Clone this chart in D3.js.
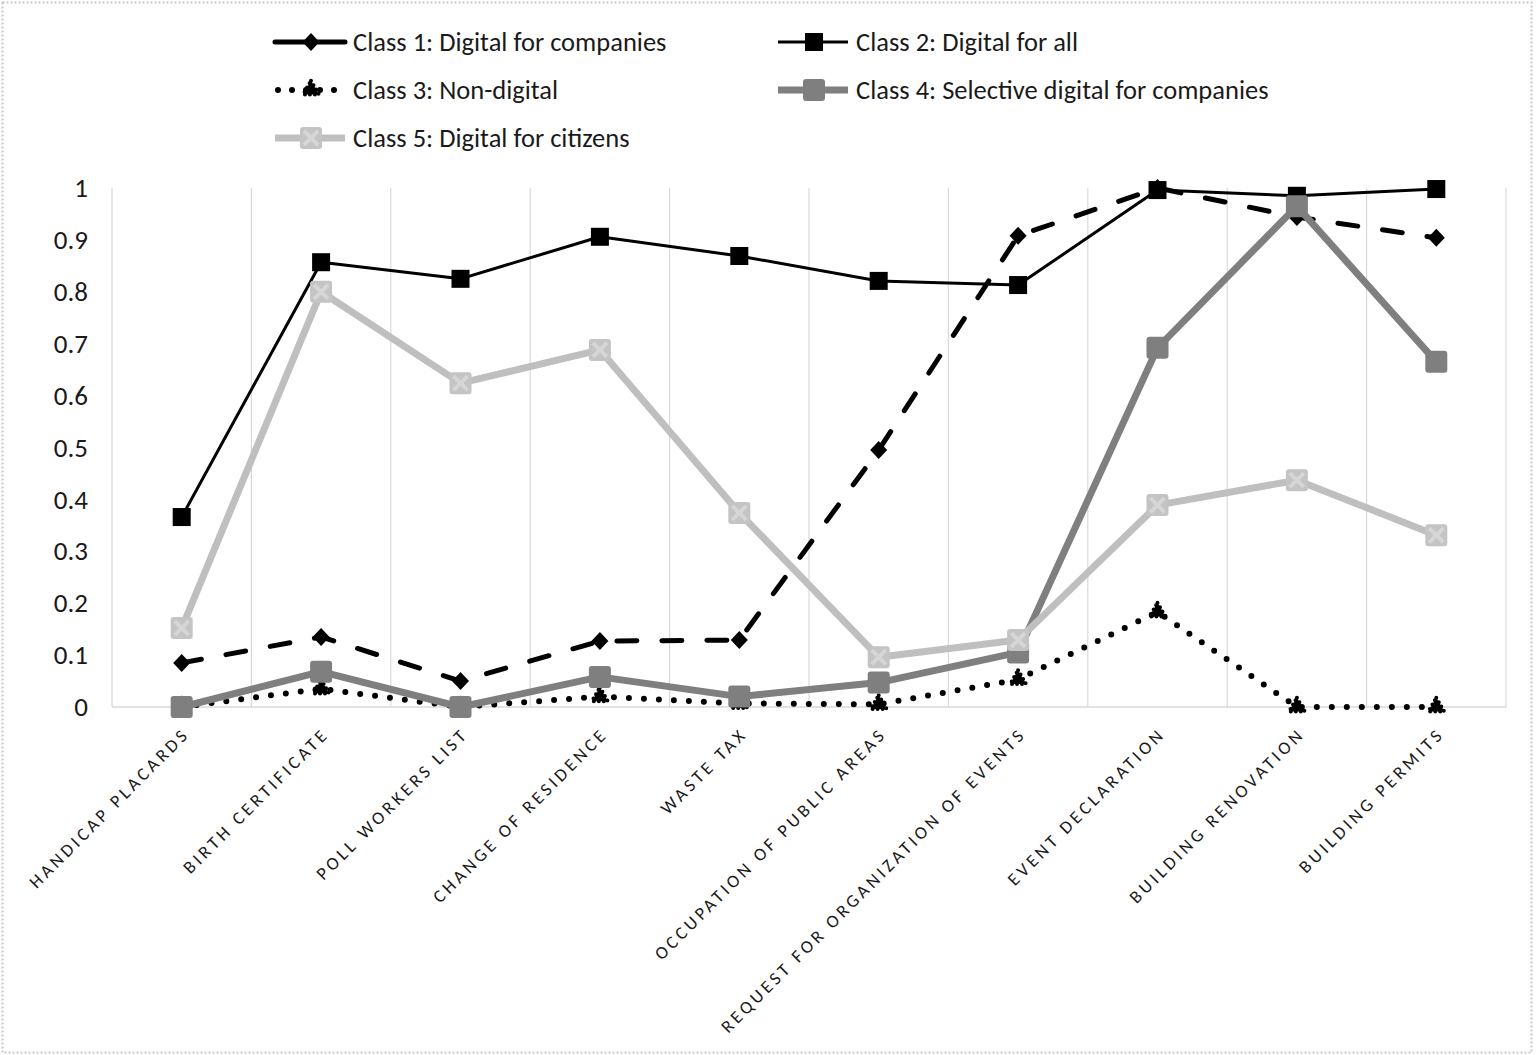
<!DOCTYPE html>
<html>
<head>
<meta charset="utf-8">
<script src="https://cdn.jsdelivr.net/npm/d3@7"></script>
<style>
  body { margin: 0; background: #fff; }
  text { font-family: Carlito, 'Open Sans', sans-serif; fill: #1a1a1a; }
  .x-axis text { font-size: 18px; letter-spacing: 3.5px; }
  .y-axis text { font-size: 27px; }
  .legend text { font-size: 26.5px; }
</style>
</head>
<body>
<div class="chart"></div>
<script>
// DATA ---------------------------------------------------------------

const categories = ['HANDICAP PLACARDS', 'BIRTH CERTIFICATE', 'POLL WORKERS LIST',
  'CHANGE OF RESIDENCE', 'WASTE TAX', 'OCCUPATION OF PUBLIC AREAS',
  'REQUEST FOR ORGANIZATION OF EVENTS', 'EVENT DECLARATION',
  'BUILDING RENOVATION', 'BUILDING PERMITS'];

const seriesNames = ['Class 1: Digital for companies', 'Class 2: Digital for all',
  'Class 3: Non-digital', 'Class 4: Selective digital for companies',
  'Class 5: Digital for citizens'];

const class1 = [0.085, 0.135, 0.05, 0.127, 0.129, 0.495, 0.908, 1.0, 0.944, 0.904];
const class2 = [0.366, 0.857, 0.825, 0.906, 0.869, 0.821, 0.813, 0.996, 0.985, 0.998];
const class3 = [0.0, 0.035, 0.0, 0.02, 0.007, 0.005, 0.053, 0.183, 0.0, 0.0];
const class4 = [0.0, 0.068, 0.0, 0.058, 0.02, 0.047, 0.105, 0.692, 0.965, 0.665];
const class5 = [0.152, 0.8, 0.624, 0.688, 0.374, 0.096, 0.129, 0.389, 0.437, 0.331];

const yTicks = [0, 0.1, 0.2, 0.3, 0.4, 0.5, 0.6, 0.7, 0.8, 0.9, 1];

// CHART INIT ---------------------------------------------------------

const W = 1537, H = 1055;
const plot = {left: 112, right: 1506, top: 188, bottom: 707};

const svg = d3.select('.chart')
    .append('svg')
    .attr('width', W)
    .attr('height', H);

// dotted frame round the chart
svg.append('rect')
    .attr('x', 2.5).attr('y', 2.5)
    .attr('width', 1529).attr('height', 1050)
    .attr('fill', 'none')
    .attr('stroke', '#c8c8c8')
    .attr('stroke-width', 2)
    .attr('stroke-dasharray', '2,2');

const xScale = d3.scaleBand()
    .domain(categories)
    .range([plot.left, plot.right])
    .padding(0);

const yScale = d3.scaleLinear()
    .domain([0, 1])
    .range([plot.bottom, plot.top]);

// vertical gridlines on category boundaries
const bounds = categories.map(c => xScale(c)).concat([plot.right]);
svg.append('g')
    .selectAll('line')
    .data(bounds)
    .join('line')
    .attr('x1', d => d).attr('x2', d => d)
    .attr('y1', plot.top).attr('y2', plot.bottom)
    .attr('stroke', '#d9d9d9')
    .attr('stroke-width', 1.2);

svg.append('line')
    .attr('x1', plot.left).attr('x2', plot.right)
    .attr('y1', plot.bottom).attr('y2', plot.bottom)
    .attr('stroke', '#d9d9d9')
    .attr('stroke-width', 1.5);

// axes
const yAxis = d3.axisLeft(yScale)
    .tickValues(yTicks)
    .tickFormat(d => String(+d.toFixed(1)))
    .tickSize(0)
    .tickPadding(24);

svg.append('g')
    .attr('class', 'axis y-axis')
    .attr('transform', 'translate(' + plot.left + ',0)')
    .call(yAxis)
    .call(g => g.select('.domain').remove());

const xAxis = d3.axisBottom(xScale)
    .tickSize(0)
    .tickPadding(0);

svg.append('g')
    .attr('class', 'axis x-axis')
    .attr('transform', 'translate(0,' + plot.bottom + ')')
    .call(xAxis)
    .call(g => g.select('.domain').remove())
    .selectAll('text')
    .attr('text-anchor', 'end')
    .attr('dy', 0)
    .attr('transform', 'translate(9,28) rotate(-45)');

// SERIES -------------------------------------------------------------

const series = [
  {values: class1, color: '#000', width: 5, dash: '20,25', cap: 'round', marker: 'diamond', mcolor: '#000'},
  {values: class2, color: '#000', width: 3, dash: null, cap: 'butt', marker: 'square', mcolor: '#000'},
  {values: class3, color: '#000', width: 6, dash: '0,15', cap: 'round', marker: 'triangle', mcolor: '#000'},
  {values: class4, color: '#7f7f7f', width: 7, dash: null, cap: 'butt', marker: 'rsquare', mcolor: '#7f7f7f'},
  {values: class5, color: '#bfbfbf', width: 7, dash: null, cap: 'butt', marker: 'xsquare', mcolor: '#c4c4c4'}
];

const line = d3.line()
    .x((d, i) => xScale(categories[i]) + xScale.bandwidth() / 2)
    .y(d => yScale(d));

function drawMarker(g, type, color) {
  if (type === 'diamond') {
    g.append('path').attr('d', 'M0,-9L8.5,0L0,9L-8.5,0Z').attr('fill', color);
  } else if (type === 'square') {
    g.append('rect').attr('x', -9).attr('y', -9).attr('width', 18).attr('height', 18).attr('fill', color);
  } else if (type === 'triangle') {
    g.append('path').attr('d', d3.symbol(d3.symbolTriangle, 110)()).attr('fill', color)
        .attr('stroke', color).attr('stroke-width', 4).attr('stroke-dasharray', '0,5')
        .attr('stroke-linecap', 'round');
  } else if (type === 'rsquare') {
    g.append('rect').attr('x', -11).attr('y', -11).attr('width', 22).attr('height', 22)
        .attr('rx', 3).attr('fill', color);
  } else if (type === 'xsquare') {
    g.append('rect').attr('x', -11).attr('y', -11).attr('width', 22).attr('height', 22)
        .attr('rx', 3).attr('fill', color);
    g.append('path').attr('d', 'M-7,-7L7,7M7,-7L-7,7')
        .attr('stroke', '#d6d6d6').attr('stroke-width', 4);
  }
}

series.forEach(s => {
  svg.append('path')
      .datum(s.values)
      .attr('d', line)
      .attr('fill', 'none')
      .attr('stroke', s.color)
      .attr('stroke-width', s.width)
      .attr('stroke-linecap', s.cap)
      .attr('stroke-linejoin', 'round')
      .attr('stroke-dasharray', s.dash);

  svg.append('g')
      .selectAll('g')
      .data(s.values)
      .join('g')
      .attr('transform', (d, i) => 'translate(' + (xScale(categories[i]) + xScale.bandwidth() / 2) + ',' + yScale(d) + ')')
      .each(function() { drawMarker(d3.select(this), s.marker, s.mcolor); });
});

// LEGEND -------------------------------------------------------------

const legendPos = [[275, 42], [778, 42], [275, 90], [778, 90], [275, 138]];

const legend = svg.append('g').attr('class', 'legend');
series.forEach((s, i) => {
  const g = legend.append('g')
      .attr('transform', 'translate(' + legendPos[i][0] + ',' + legendPos[i][1] + ')');
  g.append('line')
      .attr('x1', s.dash === '0,15' ? 3 : 0).attr('x2', 70)
      .attr('stroke', s.color)
      .attr('stroke-width', s.width)
      .attr('stroke-linecap', s.cap)
      .attr('stroke-dasharray', s.dash === '0,15' ? '0,14' : null);
  const m = g.append('g').attr('transform', 'translate(36,0)');
  drawMarker(m, s.marker, s.mcolor);
  g.append('text')
      .attr('x', 78)
      .attr('dy', '0.35em')
      .text(seriesNames[i]);
});
</script>
</body>
</html>
